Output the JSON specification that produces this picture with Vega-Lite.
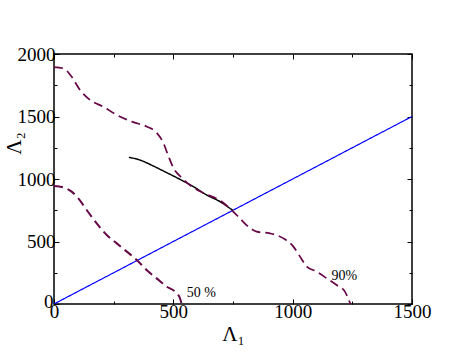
{
  "$schema": "https://vega.github.io/schema/vega-lite/v6.json",
  "width": 358,
  "height": 250,
  "autosize": "none",
  "padding": {"left": 54, "top": 54, "right": 51, "bottom": 54},
  "background": "white",
  "config": {
    "view": {"stroke": "#000000", "strokeWidth": 1.5},
    "font": "Liberation Serif",
    "axis": {
      "labelFont": "Liberation Serif",
      "titleFont": "Liberation Serif",
      "labelColor": "#000000",
      "titleColor": "#000000",
      "labelFontSize": 19,
      "titleFontSize": 21,
      "titleFontWeight": "normal",
      "tickColor": "#000000",
      "tickWidth": 1,
      "domain": false,
      "grid": false,
      "labelFlush": false,
      "labelOverlap": false,
      "format": "d"
    }
  },
  "datasets": {
    "curves": [
      {"series": "diag", "ord": 0, "l1": 0, "l2": 0},
      {"series": "diag", "ord": 1, "l1": 1500, "l2": 1500},
      {"series": "black", "ord": 0, "l1": 314, "l2": 1173},
      {"series": "black", "ord": 1, "l1": 360, "l2": 1152},
      {"series": "black", "ord": 2, "l1": 416, "l2": 1104},
      {"series": "black", "ord": 3, "l1": 472, "l2": 1051},
      {"series": "black", "ord": 4, "l1": 528, "l2": 997},
      {"series": "black", "ord": 5, "l1": 584, "l2": 939},
      {"series": "black", "ord": 6, "l1": 640, "l2": 872},
      {"series": "black", "ord": 7, "l1": 696, "l2": 819},
      {"series": "black", "ord": 8, "l1": 744, "l2": 757},
      {"series": "black", "ord": 9, "l1": 750, "l2": 750},
      {"series": "p90", "ord": 0, "l1": 0, "l2": 1895},
      {"series": "p90", "ord": 1, "l1": 39, "l2": 1885},
      {"series": "p90", "ord": 2, "l1": 74, "l2": 1818},
      {"series": "p90", "ord": 3, "l1": 109, "l2": 1712},
      {"series": "p90", "ord": 4, "l1": 151, "l2": 1632},
      {"series": "p90", "ord": 5, "l1": 207, "l2": 1578},
      {"series": "p90", "ord": 6, "l1": 263, "l2": 1512},
      {"series": "p90", "ord": 7, "l1": 332, "l2": 1455},
      {"series": "p90", "ord": 8, "l1": 388, "l2": 1420},
      {"series": "p90", "ord": 9, "l1": 430, "l2": 1370},
      {"series": "p90", "ord": 10, "l1": 458, "l2": 1290},
      {"series": "p90", "ord": 11, "l1": 479, "l2": 1185},
      {"series": "p90", "ord": 12, "l1": 500, "l2": 1090},
      {"series": "p90", "ord": 13, "l1": 535, "l2": 1010},
      {"series": "p90", "ord": 14, "l1": 577, "l2": 940},
      {"series": "p90", "ord": 15, "l1": 626, "l2": 888},
      {"series": "p90", "ord": 16, "l1": 696, "l2": 828},
      {"series": "p90", "ord": 17, "l1": 751, "l2": 739},
      {"series": "p90", "ord": 18, "l1": 779, "l2": 685},
      {"series": "p90", "ord": 19, "l1": 814, "l2": 619},
      {"series": "p90", "ord": 20, "l1": 849, "l2": 579},
      {"series": "p90", "ord": 21, "l1": 905, "l2": 565},
      {"series": "p90", "ord": 22, "l1": 961, "l2": 525},
      {"series": "p90", "ord": 23, "l1": 1003, "l2": 459},
      {"series": "p90", "ord": 24, "l1": 1031, "l2": 379},
      {"series": "p90", "ord": 25, "l1": 1059, "l2": 299},
      {"series": "p90", "ord": 26, "l1": 1101, "l2": 259},
      {"series": "p90", "ord": 27, "l1": 1143, "l2": 205},
      {"series": "p90", "ord": 28, "l1": 1184, "l2": 152},
      {"series": "p90", "ord": 29, "l1": 1219, "l2": 99},
      {"series": "p90", "ord": 30, "l1": 1242, "l2": 0},
      {"series": "p50", "ord": 0, "l1": 0, "l2": 944},
      {"series": "p50", "ord": 1, "l1": 39, "l2": 933},
      {"series": "p50", "ord": 2, "l1": 74, "l2": 899},
      {"series": "p50", "ord": 3, "l1": 102, "l2": 845},
      {"series": "p50", "ord": 4, "l1": 137, "l2": 752},
      {"series": "p50", "ord": 5, "l1": 179, "l2": 645},
      {"series": "p50", "ord": 6, "l1": 221, "l2": 552},
      {"series": "p50", "ord": 7, "l1": 263, "l2": 485},
      {"series": "p50", "ord": 8, "l1": 305, "l2": 419},
      {"series": "p50", "ord": 9, "l1": 347, "l2": 352},
      {"series": "p50", "ord": 10, "l1": 388, "l2": 272},
      {"series": "p50", "ord": 11, "l1": 430, "l2": 205},
      {"series": "p50", "ord": 12, "l1": 472, "l2": 139},
      {"series": "p50", "ord": 13, "l1": 507, "l2": 99},
      {"series": "p50", "ord": 14, "l1": 528, "l2": 45},
      {"series": "p50", "ord": 15, "l1": 535, "l2": 0}
    ],
    "labels": [
      {"txt": "50 %", "l1": 556, "l2": 56},
      {"txt": "90%", "l1": 1163, "l2": 192}
    ]
  },
  "resolve": {"axis": {"x": "independent", "y": "independent"}},
  "layer": [
    {
      "data": {"name": "curves"},
      "mark": {"type": "line", "interpolate": "monotone", "clip": true},
      "encoding": {
        "x": {
          "field": "l1", "type": "quantitative",
          "scale": {"domain": [0, 1500], "nice": false, "zero": false},
          "axis": {
            "orient": "bottom",
            "title": "Λ₁",
            "values": [0, 250, 500, 750, 1000, 1250, 1500],
            "labelExpr": "datum.value % 500 === 0 ? datum.label : ''",
            "tickSize": {"condition": {"test": "datum.value % 500 === 0", "value": -5}, "value": -3},
            "labelPadding": 3,
            "titlePadding": 0
          }
        },
        "y": {
          "field": "l2", "type": "quantitative",
          "scale": {"domain": [0, 2000], "nice": false, "zero": false},
          "axis": {
            "orient": "left",
            "title": "Λ₂",
            "values": [0, 250, 500, 750, 1000, 1250, 1500, 1750, 2000],
            "labelExpr": "datum.value % 500 === 0 ? datum.label : ''",
            "tickSize": {"condition": {"test": "datum.value % 500 === 0", "value": -5}, "value": -3},
            "labelOffset": {"condition": {"test": "datum.value === 0", "value": -3}, "value": 0},
            "labelPadding": {"condition": {"test": "datum.value === 0", "value": 6}, "value": 4},
            "titleAngle": -90,
            "titleY": 89,
            "titleX": -34,
            "titleBaseline": "alphabetic",
            "titleAlign": "center"
          }
        },
        "order": {"field": "ord", "type": "quantitative"},
        "detail": {"field": "series"},
        "color": {
          "field": "series", "type": "nominal", "legend": null,
          "scale": {"domain": ["diag", "black", "p90", "p50"], "range": ["#0000ff", "#000000", "#670748", "#670748"]}
        },
        "strokeDash": {
          "field": "series", "type": "nominal", "legend": null,
          "scale": {"domain": ["diag", "black", "p90", "p50"], "range": [[1, 0], [1, 0], [9, 5], [9, 5]]}
        },
        "strokeWidth": {
          "field": "series", "type": "nominal", "legend": null,
          "scale": {"domain": ["diag", "black", "p90", "p50"], "range": [1.2, 2, 2, 2]}
        }
      }
    },
    {
      "data": {"name": "labels"},
      "mark": {"type": "text", "align": "left", "baseline": "alphabetic", "font": "Liberation Serif", "fontSize": 14, "color": "#000000"},
      "encoding": {
        "x": {
          "field": "l1", "type": "quantitative",
          "axis": {
            "orient": "top",
            "title": null,
            "values": [0, 250, 500, 750, 1000, 1250, 1500],
            "labels": false,
            "tickSize": {"condition": {"test": "datum.value % 500 === 0", "value": -5}, "value": -3}
          }
        },
        "y": {
          "field": "l2", "type": "quantitative",
          "axis": {
            "orient": "right",
            "title": null,
            "values": [0, 250, 500, 750, 1000, 1250, 1500, 1750, 2000],
            "labels": false,
            "tickSize": {"condition": {"test": "datum.value % 500 === 0", "value": -5}, "value": -3}
          }
        },
        "text": {"field": "txt"}
      }
    }
  ]
}
